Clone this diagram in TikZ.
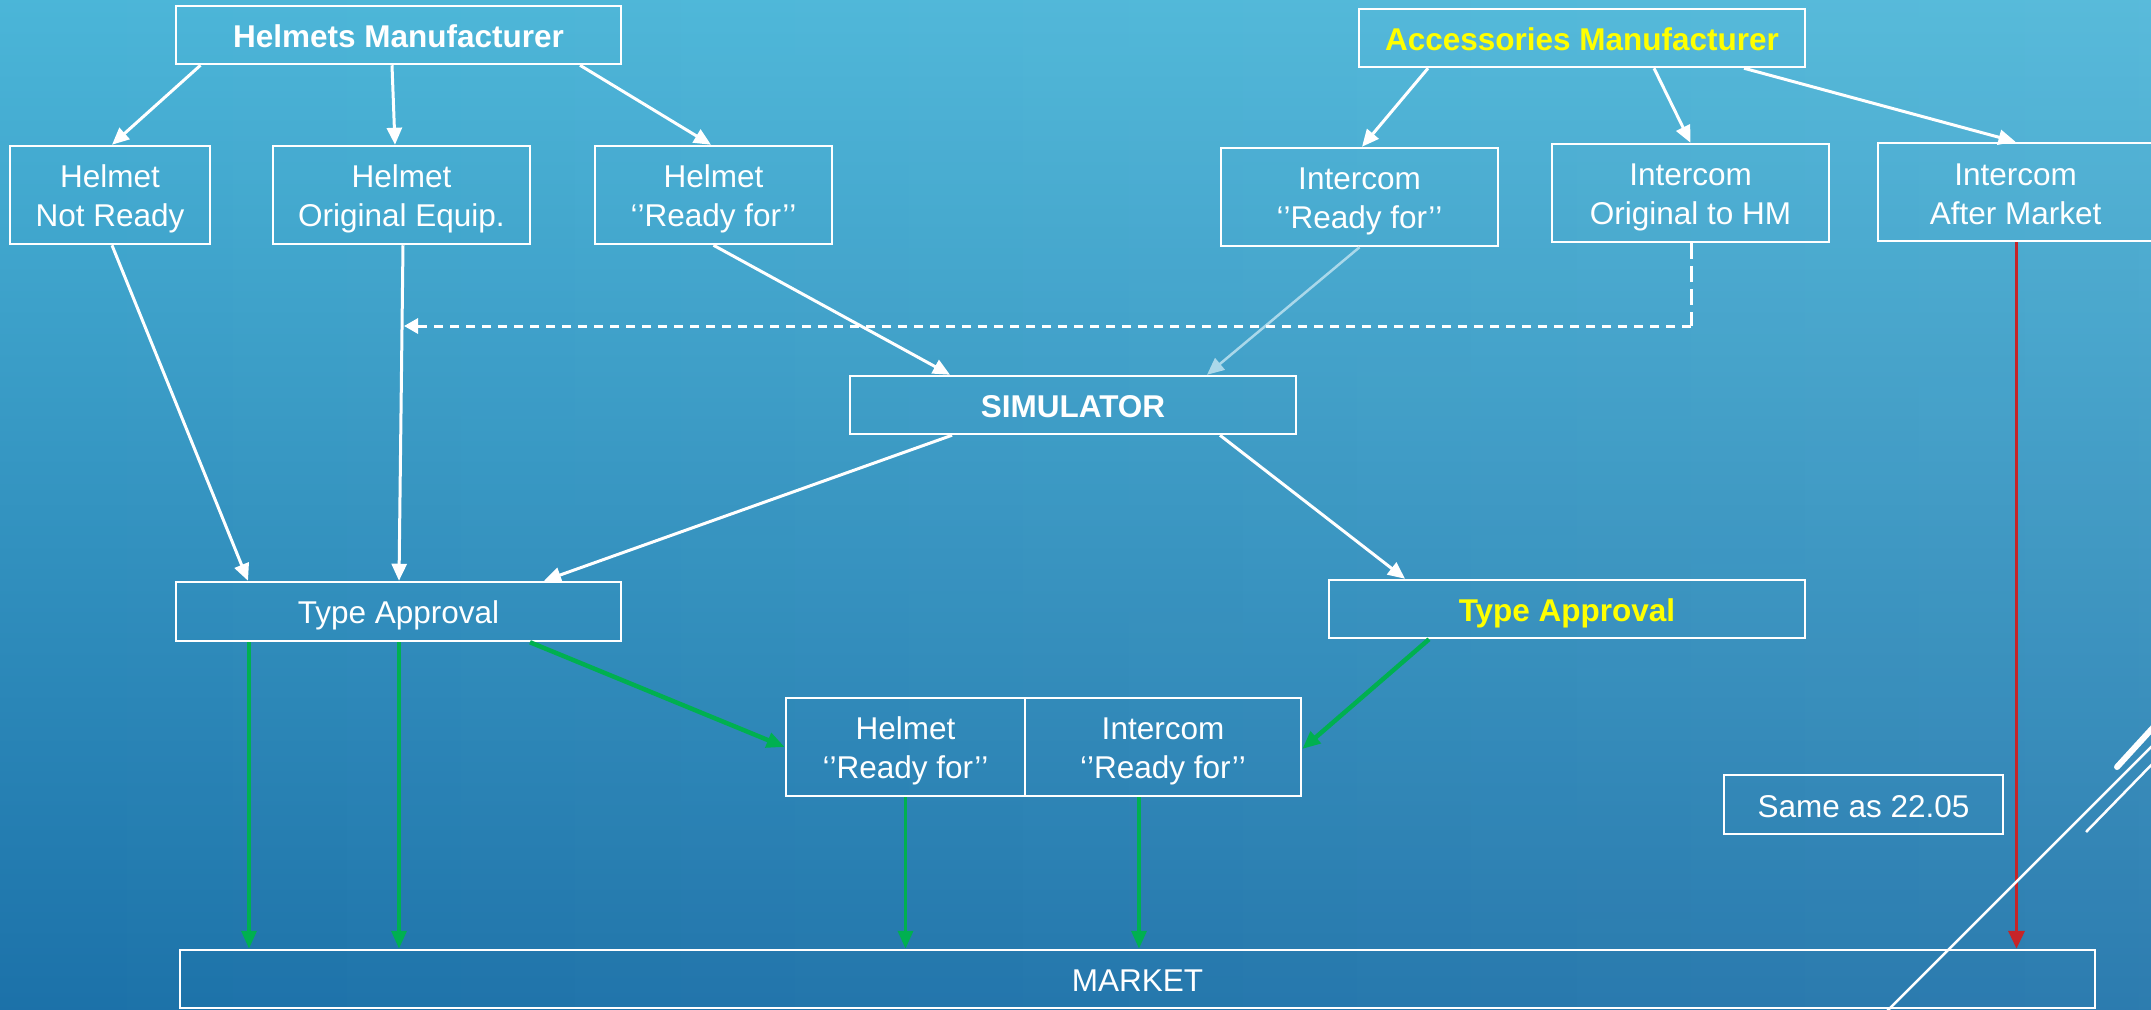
\documentclass[tikz,border=0pt]{standalone}
\usepackage{fontspec}
\setmainfont{Liberation Sans}
\usetikzlibrary{arrows.meta,calc,fadings}
\definecolor{bgtop}{RGB}{76,183,217}
\definecolor{bgbot}{RGB}{27,112,168}
\definecolor{pgreen}{RGB}{0,176,80}
\definecolor{pred}{RGB}{198,36,40}
\definecolor{lblue}{RGB}{170,216,234}
\definecolor{pyellow}{RGB}{255,255,0}
\newcommand\myoq{‘\kern0pt’}
\newcommand\mycq{’\kern0pt’}
\newcommand\ms{\rule[-6pt]{0pt}{37pt}}
\tikzfading[name=fadeleft, left color=transparent!100, right color=transparent!0]
\begin{document}
\begin{tikzpicture}[x=1pt,y=-1pt,
  box/.style={draw=white, line width=2.5pt, inner sep=0pt, text=white, align=center,
    font=\fontsize{31.5}{39}\selectfont},
  bbox/.style={box, font=\fontsize{31.5}{39}\selectfont\bfseries},
  arr/.style={draw=white, line width=3pt, -{Triangle[length=17pt,width=15pt]}},
  garr/.style={draw=pgreen, line width=3.5pt, -{Triangle[length=18pt,width=15pt]}},
  rarr/.style={draw=pred, line width=3.5pt, -{Triangle[length=18pt,width=16pt]}},
  dsh/.style={draw=white, line width=3pt},
  deco/.style={draw=white, line width=2.5pt}
]
\useasboundingbox (0,0) rectangle (2151,1009);
\clip (0,0) rectangle (2151,1009);
\fill[top color=bgtop, bottom color=bgbot] (-20,-20) rectangle (2171,1029);
\fill[white, opacity=0.08, path fading=fadeleft] (-40,-40) rectangle (2191,1049);

% nodes
\node[bbox, minimum width=445, minimum height=58] (HM) at (398.5,35) {\ms Helmets Manufacturer\ms};
\node[box, minimum width=200, minimum height=98] (NR) at (110,195) {\ms Helmet\\Not Ready\ms};
\node[box, minimum width=257, minimum height=98] (OE) at (401.5,195) {\ms Helmet\\Original Equip.\ms};
\node[box, minimum width=237, minimum height=98] (HRF) at (713.5,195) {\ms Helmet\\\myoq Ready for\mycq\ms};
\node[bbox, minimum width=446, minimum height=58, text=pyellow] (AM) at (1582,38) {\ms Accessories Manufacturer\ms};
\node[box, minimum width=277, minimum height=98] (IRF) at (1359.5,197) {\ms Intercom\\\myoq Ready for\mycq\ms};
\node[box, minimum width=277, minimum height=98] (IO) at (1690.5,193) {\ms Intercom\\Original to HM\ms};
\node[box, minimum width=275, minimum height=98] (IAM) at (2015.5,192) {\ms Intercom\\After Market\ms};
\node[bbox, minimum width=446, minimum height=58] (SIM) at (1073,405) {\ms SIMULATOR\ms};
\node[box, minimum width=445, minimum height=59] (TAL) at (398.5,611.5) {\ms Type Approval\ms};
\node[bbox, minimum width=476, minimum height=58, text=pyellow] (TAR) at (1567,609) {\ms Type Approval\ms};
\node[box, minimum width=239, minimum height=98] (BH) at (905.5,747) {\ms Helmet\\\myoq Ready for\mycq\ms};
\node[box, minimum width=276, minimum height=98] (BI) at (1163,747) {\ms Intercom\\\myoq Ready for\mycq\ms};
\node[box, minimum width=279, minimum height=59] (SAME) at (1863.5,804.5) {\ms Same as 22.05\ms};
\node[box, minimum width=1915, minimum height=58] (MKT) at (1137.5,979) {\ms MARKET\ms};

% top connectors
\draw[arr] ([xshift=-198pt]HM.south) -- ([xshift=2pt]NR.north);
\draw[arr] ([xshift=-6.5pt]HM.south) -- ([xshift=-6.5pt]OE.north);
\draw[arr] ([xshift=181.5pt]HM.south) -- ([xshift=-2.5pt]HRF.north);
\draw[arr] ([xshift=-154pt]AM.south) -- ([xshift=2.5pt]IRF.north);
\draw[arr] ([xshift=72pt]AM.south) -- (IO.north);
\draw[arr] ([xshift=162pt]AM.south) -- (IAM.north);

\draw[arr] ([xshift=2pt]NR.south) -- ([xshift=-150.5pt]TAL.north);
\draw[arr] ([xshift=1.5pt]OE.south) -- ([xshift=0.5pt]TAL.north);
\draw[arr] (HRF.south) -- ([xshift=-123pt]SIM.north);
\draw[arr, draw=lblue, line width=2.5pt] (IRF.south) -- ([xshift=134pt]SIM.north);

% dashed connector
\coordinate (dj) at (1691,326);
\coordinate (dt) at (404,326);
\draw[dsh, dash pattern=on 16pt off 7pt] ([xshift=0.5pt]IO.south) -- (dj);
\draw[dsh, dash pattern=on 9pt off 7pt, -{Triangle[length=14pt,width=15pt]}] (dj) -- (dt);

\draw[arr] ([xshift=-121pt]SIM.south) -- ([xshift=145.5pt]TAL.north);
\draw[arr] ([xshift=147pt]SIM.south) -- ([xshift=-162pt]TAR.north);

% green connectors
\draw[garr, line width=4.5pt] ([xshift=131.5pt]TAL.south) -- (BH.west);
\draw[garr, line width=4.5pt] ([xshift=-138pt]TAR.south) -- ([yshift=-2pt]BI.east);
\draw[garr] ([xshift=-149.5pt]TAL.south) -- ([xshift=-149.5pt]TAL.south |- MKT.north);
\draw[garr] ([xshift=0.5pt]TAL.south) -- ([xshift=0.5pt]TAL.south |- MKT.north);
\draw[garr] (BH.south) -- (BH.south |- MKT.north);
\draw[garr] ([xshift=-24pt]BI.south) -- ([xshift=-24pt]BI.south |- MKT.north);

% red connector
\draw[rarr] ([xshift=1pt]IAM.south) -- ([xshift=1pt]IAM.south |- MKT.north);

% decorative lines
\draw[deco] (1880,1018) -- (2160,738);
\draw[deco, line width=6pt, line cap=round] (2117,767) -- (2160,720);
\draw[deco] (2086,832) -- (2160,756);
\end{tikzpicture}
\end{document}
